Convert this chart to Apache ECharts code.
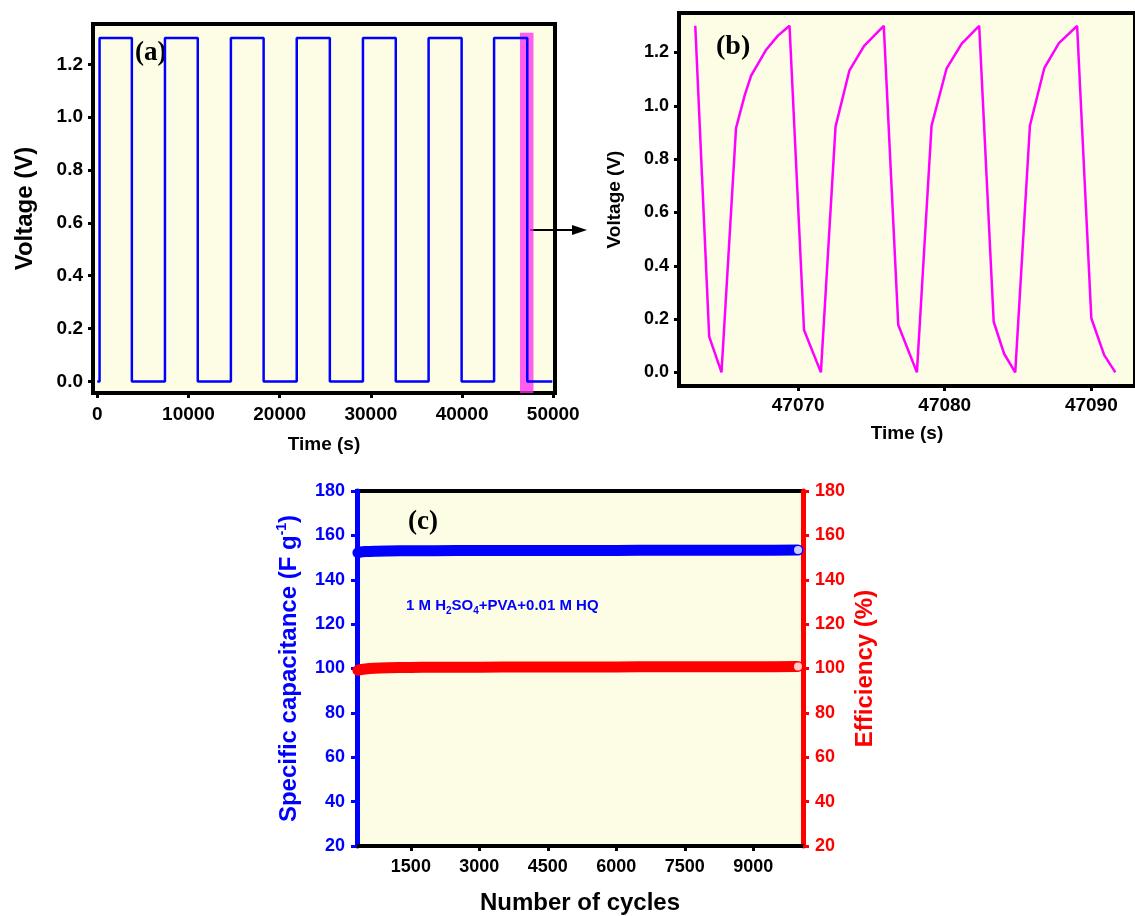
<!DOCTYPE html>
<html>
<head>
<meta charset="utf-8">
<script src="https://cdn.jsdelivr.net/npm/echarts@6/dist/echarts.min.js"></script>
<style>
  html, body { margin: 0; padding: 0; background: #fff; }
  #main { width: 1135px; height: 916px; }
</style>
</head>
<body>
<div id="main"></div>
<script>
// (a) full GCD run: switching times and voltage levels
const timeA = [0, 250, 3790, 7420, 11020, 14650, 18240, 21870, 25500, 29130, 32730, 36330, 39950, 43510, 47150, 49900];
const voltA = [0, 1.3, 0, 1.3, 0, 1.3, 0, 1.3, 0, 1.3, 0, 1.3, 0, 1.3, 0, 0];
const zoomSpan = [46350, 47830]; // highlighted window

// (b) zoomed window
const timeB = [47062.98, 47063.93, 47064.77, 47065.76, 47066.36, 47066.79, 47067.79, 47068.62, 47069.41,
  47070.40, 47071.55, 47072.55, 47073.50, 47074.50, 47075.84,
  47076.83, 47078.10, 47079.10, 47080.12, 47081.16, 47082.35,
  47083.34, 47084.05, 47084.81, 47085.81, 47086.79, 47087.79, 47089.03,
  47090.00, 47090.88, 47091.64];
const voltB = [1.30, 0.134, 0.0, 0.916, 1.041, 1.113, 1.208, 1.263, 1.30,
  0.159, 0.0, 0.922, 1.133, 1.225, 1.30,
  0.178, 0.0, 0.925, 1.139, 1.233, 1.30,
  0.190, 0.07, 0.0, 0.925, 1.141, 1.235, 1.30,
  0.203, 0.065, 0.0];

// (c) cycling stability
const cycles = [340, 400, 500, 700, 1000, 1500, 2000, 3000, 4000, 5000, 6000, 7000, 8000, 9000, 9980];
const capacitance = [152.2, 152.5, 152.7, 152.9, 153.0, 153.1, 153.1, 153.2, 153.2, 153.2, 153.2, 153.3, 153.3, 153.3, 153.4];
const efficiency = [99.2, 99.5, 99.8, 100.1, 100.3, 100.5, 100.6, 100.6, 100.7, 100.7, 100.7, 100.8, 100.8, 100.8, 100.9];

const timeTicksA = [0, 10000, 20000, 30000, 40000, 50000];
const timeTicksB = [47070, 47080, 47090];
const voltTicks = [0, 0.2, 0.4, 0.6, 0.8, 1.0, 1.2];
const cycleTicks = [1500, 3000, 4500, 6000, 7500, 9000];

const SANS = 'Liberation Sans, Arial, sans-serif';
const SERIF = 'Liberation Serif, Times New Roman, serif';
const BG = '#fdfde6';

const chart = echarts.init(document.getElementById('main'));

function pairs(xs, ys) {
  return xs.map((x, i) => [x, ys[i]]);
}

function lbl(size, color, margin) {
  return { fontFamily: SANS, fontWeight: 'bold', fontSize: size, color: color, margin: margin };
}

const last = cycles.length - 1;

const option = {
  backgroundColor: '#fff',
  animation: false,
  grid: [
    { left: 93, top: 24, width: 462, height: 369, show: true, backgroundColor: BG, borderColor: '#000', borderWidth: 4 },
    { left: 679, top: 13, width: 463, height: 373, show: true, backgroundColor: BG, borderColor: '#000', borderWidth: 4 },
    { left: 357, top: 491, width: 446, height: 359, show: true, backgroundColor: BG, borderColor: '#000', borderWidth: 4 },
  ],
  xAxis: [
    {
      gridIndex: 0, type: 'value', min: -470, max: 50190,
      name: 'Time (s)', nameLocation: 'middle', nameGap: 42,
      nameTextStyle: { fontFamily: SANS, fontWeight: 'bold', fontSize: 19, color: '#000' },
      axisLine: { onZero: false, lineStyle: { color: '#000', width: 4 } },
      axisTick: { customValues: timeTicksA, length: 5, lineStyle: { color: '#000', width: 3 } },
      axisLabel: Object.assign(lbl(19, '#000', 12), { customValues: timeTicksA, formatter: v => String(v) }),
      splitLine: { show: false },
    },
    {
      gridIndex: 1, type: 'value', min: 47061.87, max: 47092.98,
      name: 'Time (s)', nameLocation: 'middle', nameGap: 38,
      nameTextStyle: { fontFamily: SANS, fontWeight: 'bold', fontSize: 19, color: '#000' },
      axisLine: { onZero: false, lineStyle: { color: '#000', width: 4 } },
      axisTick: { customValues: timeTicksB, length: 5, lineStyle: { color: '#000', width: 3 } },
      axisLabel: Object.assign(lbl(19, '#000', 10), { customValues: timeTicksB, formatter: v => String(v) }),
      splitLine: { show: false },
    },
    {
      gridIndex: 2, type: 'value', min: 320, max: 10090,
      name: 'Number of cycles', nameLocation: 'middle', nameGap: 45,
      nameTextStyle: { fontFamily: SANS, fontWeight: 'bold', fontSize: 24, color: '#000' },
      axisLine: { onZero: false, lineStyle: { color: '#000', width: 4 } },
      axisTick: { customValues: cycleTicks, length: 5, lineStyle: { color: '#000', width: 3 } },
      axisLabel: Object.assign(lbl(18, '#000', 12), { customValues: cycleTicks, formatter: v => String(v) }),
      splitLine: { show: false },
    },
  ],
  yAxis: [
    {
      gridIndex: 0, type: 'value', min: -0.044, max: 1.353,
      name: 'Voltage (V)', nameLocation: 'middle', nameGap: 56,
      nameTextStyle: { fontFamily: SANS, fontWeight: 'bold', fontSize: 24, color: '#000' },
      axisLine: { onZero: false, lineStyle: { color: '#000', width: 4 } },
      axisTick: { customValues: voltTicks, length: 5, lineStyle: { color: '#000', width: 3 } },
      axisLabel: Object.assign(lbl(19, '#000', 10), { customValues: voltTicks, formatter: v => v.toFixed(1) }),
      splitLine: { show: false },
    },
    {
      gridIndex: 1, type: 'value', min: -0.051, max: 1.348,
      name: 'Voltage (V)', nameLocation: 'middle', nameGap: 55,
      nameTextStyle: { fontFamily: SANS, fontWeight: 'bold', fontSize: 19, color: '#000' },
      axisLine: { onZero: false, lineStyle: { color: '#000', width: 4 } },
      axisTick: { customValues: voltTicks, length: 5, lineStyle: { color: '#000', width: 3 } },
      axisLabel: Object.assign(lbl(18, '#000', 10), { customValues: voltTicks, formatter: v => v.toFixed(1) }),
      splitLine: { show: false },
    },
    {
      gridIndex: 2, type: 'value', min: 20, max: 180, interval: 20, position: 'left',
      name: '{t|Specific capacitance (F g}{s|-1}{t|)}', nameLocation: 'middle', nameGap: 54,
      nameTextStyle: {
        rich: {
          t: { fontFamily: SANS, fontWeight: 'bold', fontSize: 24, color: '#0000ff', lineHeight: 28 },
          s: { fontFamily: SANS, fontWeight: 'bold', fontSize: 14, color: '#0000ff', verticalAlign: 'top', lineHeight: 28 },
        },
      },
      axisLine: { onZero: false, lineStyle: { color: '#0000ff', width: 5 } },
      axisTick: { length: 6, lineStyle: { color: '#0000ff', width: 3 } },
      axisLabel: lbl(18, '#0000ff', 12),
      splitLine: { show: false },
    },
    {
      gridIndex: 2, type: 'value', min: 20, max: 180, interval: 20, position: 'right',
      name: 'Efficiency (%)', nameLocation: 'middle', nameGap: 50, nameRotate: 90,
      nameTextStyle: { fontFamily: SANS, fontWeight: 'bold', fontSize: 24, color: '#ff0000' },
      axisLine: { onZero: false, lineStyle: { color: '#ff0000', width: 5 } },
      axisTick: { length: 6, lineStyle: { color: '#ff0000', width: 3 } },
      axisLabel: lbl(18, '#ff0000', 12),
      splitLine: { show: false },
    },
  ],
  series: [
    {
      type: 'line', xAxisIndex: 0, yAxisIndex: 0, step: 'end', showSymbol: false,
      data: pairs(timeA, voltA),
      lineStyle: { color: '#0000ff', width: 2.5 },
      markArea: {
        silent: true,
        itemStyle: { color: 'rgba(255, 40, 240, 0.75)' },
        data: [[{ xAxis: zoomSpan[0], yAxis: 1.32 }, { xAxis: zoomSpan[1], yAxis: -0.044 }]],
      },
    },
    {
      type: 'line', xAxisIndex: 1, yAxisIndex: 1, showSymbol: false,
      data: pairs(timeB, voltB),
      lineStyle: { color: '#ff00ff', width: 2.5 },
    },
    {
      type: 'line', xAxisIndex: 2, yAxisIndex: 2, showSymbol: false, smooth: 0.3,
      data: pairs(cycles, capacitance),
      lineStyle: { color: '#0000ff', width: 11, cap: 'round' },
    },
    {
      type: 'line', xAxisIndex: 2, yAxisIndex: 3, showSymbol: false, smooth: 0.3,
      data: pairs(cycles, efficiency),
      lineStyle: { color: '#ff0000', width: 11, cap: 'round' },
    },
    {
      type: 'scatter', xAxisIndex: 2, yAxisIndex: 2, symbolSize: 8,
      data: [[cycles[last], capacitance[last]]],
      itemStyle: { color: '#ffffff' }, z: 5,
    },
    {
      type: 'scatter', xAxisIndex: 2, yAxisIndex: 3, symbolSize: 8,
      data: [[cycles[last], efficiency[last]]],
      itemStyle: { color: '#ffffff' }, z: 5,
    },
  ],
  graphic: [
    { type: 'text', left: 135, top: 40, style: { text: '(a)', font: 'bold 27px ' + SERIF, fill: '#000' } },
    { type: 'text', left: 716, top: 33, style: { text: '(b)', font: 'bold 28px ' + SERIF, fill: '#000' } },
    { type: 'text', left: 408, top: 509, style: { text: '(c)', font: 'bold 27px ' + SERIF, fill: '#000' } },
    {
      type: 'text', left: 406, top: 598,
      style: {
        text: '{a|1 M H}{b|2}{a|SO}{b|4}{a|+PVA+0.01 M HQ}',
        rich: {
          a: { fontFamily: SANS, fontWeight: 'bold', fontSize: 15, fill: '#0000ff', lineHeight: 18 },
          b: { fontFamily: SANS, fontWeight: 'bold', fontSize: 10, fill: '#0000ff', verticalAlign: 'bottom', lineHeight: 22 },
        },
      },
    },
    { type: 'line', shape: { x1: 530, y1: 230, x2: 574, y2: 230 }, style: { stroke: '#000', lineWidth: 2 } },
    { type: 'polygon', shape: { points: [[572, 225], [587, 230], [572, 235]] }, style: { fill: '#000' } },
  ],
};

chart.setOption(option);
</script>
</body>
</html>
